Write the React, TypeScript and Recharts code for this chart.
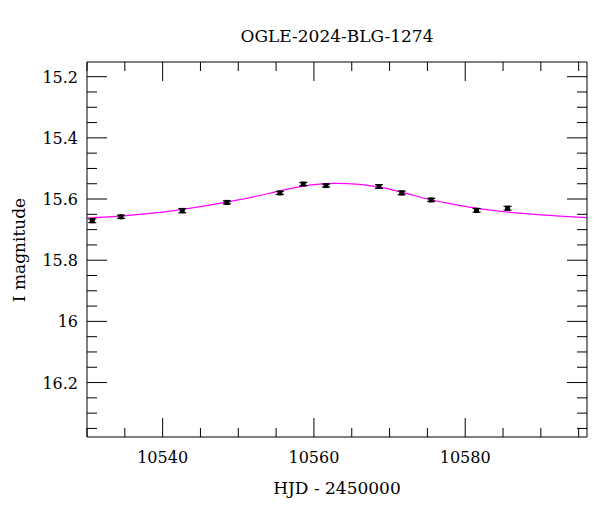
import { ComposedChart, Line, Scatter, ErrorBar, XAxis, YAxis } from "recharts"

const obsHjd = [10530.7, 10534.5, 10542.6, 10548.5, 10555.5, 10558.6, 10561.6, 10568.6, 10571.6, 10575.5, 10581.5, 10585.6]
const obsMag = [15.671, 15.658, 15.638, 15.611, 15.580, 15.551, 15.556, 15.559, 15.580, 15.603, 15.637, 15.630]
const obsErr = [0.006, 0.005, 0.007, 0.005, 0.005, 0.005, 0.005, 0.006, 0.006, 0.005, 0.006, 0.006]

// model curve sampled off the plot
const modelHjd = [10530, 10534, 10538, 10542, 10546, 10550, 10554, 10557, 10560, 10563, 10566, 10569, 10572, 10575, 10578, 10581, 10585, 10590, 10596.1]
const modelMag = [15.662, 15.657, 15.648, 15.636, 15.621, 15.603, 15.582, 15.565, 15.553, 15.549, 15.552, 15.563, 15.580, 15.600, 15.615, 15.628, 15.641, 15.652, 15.661]

const xTicks = [10530, 10535, 10540, 10545, 10550, 10555, 10560, 10565, 10570, 10575, 10580, 10585, 10590, 10595]
const xMajor = [10540, 10560, 10580]
const yTicks = [15.2, 15.25, 15.3, 15.35, 15.4, 15.45, 15.5, 15.55, 15.6, 15.65, 15.7, 15.75, 15.8, 15.85, 15.9, 15.95, 16, 16.05, 16.1, 16.15, 16.2, 16.25, 16.3, 16.35]
const yMajor = [15.2, 15.4, 15.6, 15.8, 16, 16.2]

const obs = obsHjd.map((hjd, i) => ({ hjd, mag: obsMag[i], err: obsErr[i] }))
const model = modelHjd.map((hjd, i) => ({ hjd, mag: modelMag[i] }))

const FONT = "'DejaVu Serif', serif"
const xDomain = [10530, 10596.1]
const yDomain = [15.152, 16.378]

const isMajorY = (v: number) => yMajor.some((m) => Math.abs(m - v) < 1e-6)

function BottomTick({ x, y, payload }: any) {
  const major = xMajor.includes(payload.value)
  return (
    <g>
      <line x1={x} x2={x} y1={y} y2={y - (major ? 19 : 9)} stroke="#000" />
      {major && (
        <text x={x} y={y + 26} textAnchor="middle" fontFamily={FONT} fontSize={16} fill="#000">
          {payload.value}
        </text>
      )}
    </g>
  )
}

function TopTick({ x, y, payload }: any) {
  const major = xMajor.includes(payload.value)
  return <line x1={x} x2={x} y1={y} y2={y + (major ? 19 : 9)} stroke="#000" />
}

function LeftTick({ x, y, payload }: any) {
  const major = isMajorY(payload.value)
  return (
    <g>
      <line x1={x} x2={x + (major ? 20 : 10)} y1={y} y2={y} stroke="#000" />
      {major && (
        <text x={x - 9} y={y} dy="0.38em" textAnchor="end" fontFamily={FONT} fontSize={16} fill="#000">
          {String(payload.value)}
        </text>
      )}
    </g>
  )
}

function RightTick({ x, y, payload }: any) {
  const major = isMajorY(payload.value)
  return <line x1={x} x2={x - (major ? 20 : 10)} y1={y} y2={y} stroke="#000" />
}

function Square({ cx, cy }: any) {
  return <rect x={cx - 2.5} y={cy - 2.5} width={5} height={5} fill="#000" />
}

export default function App() {
  return (
    <div>
      <style>{"body{margin:0}"}</style>
      <ComposedChart width={600} height={512} margin={{ top: 0, right: 0, bottom: 0, left: 0 }}>
        <XAxis
          dataKey="hjd"
          type="number"
          domain={xDomain}
          allowDataOverflow
          ticks={xTicks}
          interval={0}
          tickSize={0}
          tickMargin={0}
          tickLine={false}
          tick={BottomTick}
          axisLine={{ stroke: "#000" }}
          height={75}
        />
        <XAxis
          xAxisId="top"
          orientation="top"
          dataKey="hjd"
          type="number"
          domain={xDomain}
          allowDataOverflow
          ticks={xTicks}
          interval={0}
          tickSize={0}
          tickMargin={0}
          tickLine={false}
          tick={TopTick}
          axisLine={{ stroke: "#000" }}
          height={62}
        />
        <YAxis
          type="number"
          domain={yDomain}
          reversed
          allowDataOverflow
          ticks={yTicks}
          interval={0}
          tickSize={0}
          tickMargin={0}
          tickLine={false}
          tick={LeftTick}
          axisLine={{ stroke: "#000" }}
          width={87}
        />
        <YAxis
          yAxisId="right"
          orientation="right"
          type="number"
          domain={yDomain}
          reversed
          allowDataOverflow
          ticks={yTicks}
          interval={0}
          tickSize={0}
          tickMargin={0}
          tickLine={false}
          tick={RightTick}
          axisLine={{ stroke: "#000" }}
          width={13}
        />
        <Line data={model} dataKey="mag" type="monotone" stroke="#ff00ff" strokeWidth={1.2} dot={false} isAnimationActive={false} />
        <Scatter data={obs} dataKey="mag" shape={Square} isAnimationActive={false}>
          <ErrorBar dataKey="err" direction="y" width={4} stroke="#000" strokeWidth={1.2} />
        </Scatter>
        <text x={337} y={42} textAnchor="middle" fontFamily={FONT} fontSize={17} fill="#000">
          OGLE-2024-BLG-1274
        </text>
        <text x={337} y={494} textAnchor="middle" fontFamily={FONT} fontSize={17} fill="#000">
          HJD - 2450000
        </text>
        <text x={25} y={250} transform="rotate(-90, 25, 250)" textAnchor="middle" fontFamily={FONT} fontSize={17} fill="#000">
          I magnitude
        </text>
      </ComposedChart>
    </div>
  )
}
